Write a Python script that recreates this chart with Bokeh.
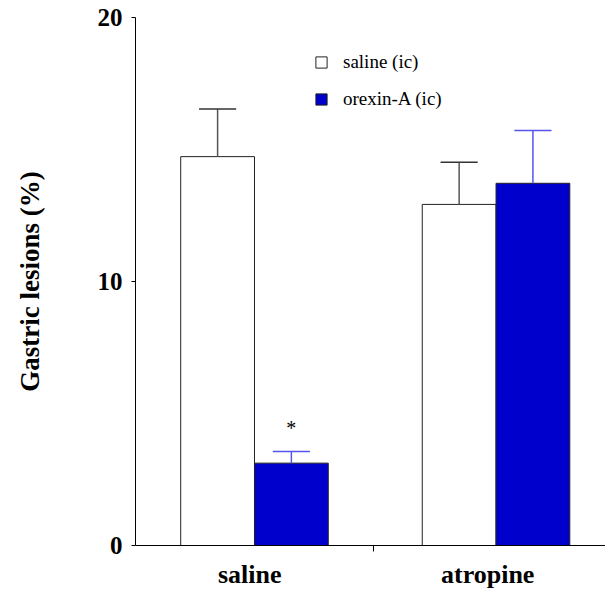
from bokeh.plotting import figure
from bokeh.models import Range1d, FixedTicker, Legend, LegendItem, ColumnDataSource
from bokeh.core.properties import value
from bokeh.embed import file_html
from bokeh.resources import INLINE

# ---- data ----
categories = ["saline", "atropine"]
group_x = [0.5, 1.515]          # group centres on numeric x scale
label_x = [0.48, 1.48]          # category label positions
divider_x = [1.0]               # tick between the groups
saline_ic = [14.73, 12.92]
saline_ic_err = [1.80, 1.60]
orexin_ic = [3.12, 13.72]
orexin_ic_err = [0.44, 2.00]
y_ticks = [0, 10, 20]

bar_w = 0.31
cap_half = 0.078

x_white = [g - bar_w / 2 for g in group_x]
x_blue = [g + bar_w / 2 for g in group_x]

BLUE = "#0000CC"
SERIF = "Liberation Serif"

p = figure(width=605, height=591, x_range=Range1d(0, 1.975), y_range=Range1d(0, 20),
           output_backend="svg", toolbar_location=None,
           min_border_left=135, min_border_right=0, min_border_top=17, min_border_bottom=46)
p.outline_line_color = None
p.xgrid.visible = False
p.ygrid.visible = False
p.background_fill_color = "white"

src_w = ColumnDataSource(dict(x=x_white, top=saline_ic, err_top=[v + e for v, e in zip(saline_ic, saline_ic_err)],
                              c0=[x - cap_half for x in x_white], c1=[x + cap_half for x in x_white]))
src_b = ColumnDataSource(dict(x=x_blue, top=orexin_ic, err_top=[v + e for v, e in zip(orexin_ic, orexin_ic_err)],
                              c0=[x - cap_half for x in x_blue], c1=[x + cap_half for x in x_blue]))

r_white = p.vbar(x="x", top="top", bottom=0, width=bar_w, source=src_w,
                 fill_color="white", line_color="#222222", line_width=1)
r_blue = p.vbar(x="x", top="top", bottom=0, width=bar_w, source=src_b,
                fill_color=BLUE, line_color="#222222", line_width=1)

# error bars
p.segment(x0="x", y0="top", x1="x", y1="err_top", source=src_w, line_color="#555555", line_width=1.5)
p.segment(x0="c0", y0="err_top", x1="c1", y1="err_top", source=src_w, line_color="#333333", line_width=1.5)
p.segment(x0="x", y0="top", x1="x", y1="err_top", source=src_b, line_color="#5555EE", line_width=1.5)
p.segment(x0="c0", y0="err_top", x1="c1", y1="err_top", source=src_b, line_color="#5555EE", line_width=1.5)

# significance asterisk
p.text(x=[x_blue[0]], y=[orexin_ic[0] + orexin_ic_err[0]], text=["*"], y_offset=-24,
       text_align="center", text_baseline="alphabetic",
       text_font=value(SERIF), text_font_size="20px", text_color="black")

# legend
legend = Legend(items=[LegendItem(label="saline (ic)", renderers=[r_white]),
                       LegendItem(label="orexin-A (ic)", renderers=[r_blue])],
                location=(179, 435), glyph_width=14, glyph_height=14, label_height=20,
                spacing=15, padding=0, margin=0, border_line_color=None,
                background_fill_alpha=0, label_text_font=SERIF, label_text_font_size="19px",
                label_text_color="black", label_standoff=15)
p.add_layout(legend)

# y axis
ya = p.yaxis[0]
ya.ticker = FixedTicker(ticks=y_ticks, minor_ticks=[])
ya.major_tick_out = 4
ya.major_tick_in = 0
ya.minor_tick_out = 0
ya.minor_tick_in = 0
ya.major_label_standoff = 9
ya.major_label_text_font = SERIF
ya.major_label_text_font_style = "bold"
ya.major_label_text_font_size = "25px"
ya.major_label_text_color = "black"
ya.axis_label = "Gastric lesions (%)"
ya.axis_label_text_font = SERIF
ya.axis_label_text_font_style = "bold"
ya.axis_label_text_font_size = "27px"
ya.axis_label_text_color = "black"
ya.axis_label_standoff = 50
ya.axis_line_color = "black"
ya.major_tick_line_color = "black"

# x axis
xa = p.xaxis[0]
xa.ticker = FixedTicker(ticks=label_x, minor_ticks=divider_x)
xa.major_label_overrides = {label_x[0]: categories[0], label_x[1]: categories[1]}
xa.major_tick_out = 0
xa.major_tick_in = 0
xa.minor_tick_out = 6
xa.minor_tick_in = 0
xa.minor_tick_line_color = "black"
xa.major_label_standoff = 8
xa.major_label_text_font = SERIF
xa.major_label_text_font_style = "bold"
xa.major_label_text_font_size = "26px"
xa.major_label_text_color = "black"
xa.axis_line_color = "black"

open("out.html", "w").write(file_html(p, INLINE))
